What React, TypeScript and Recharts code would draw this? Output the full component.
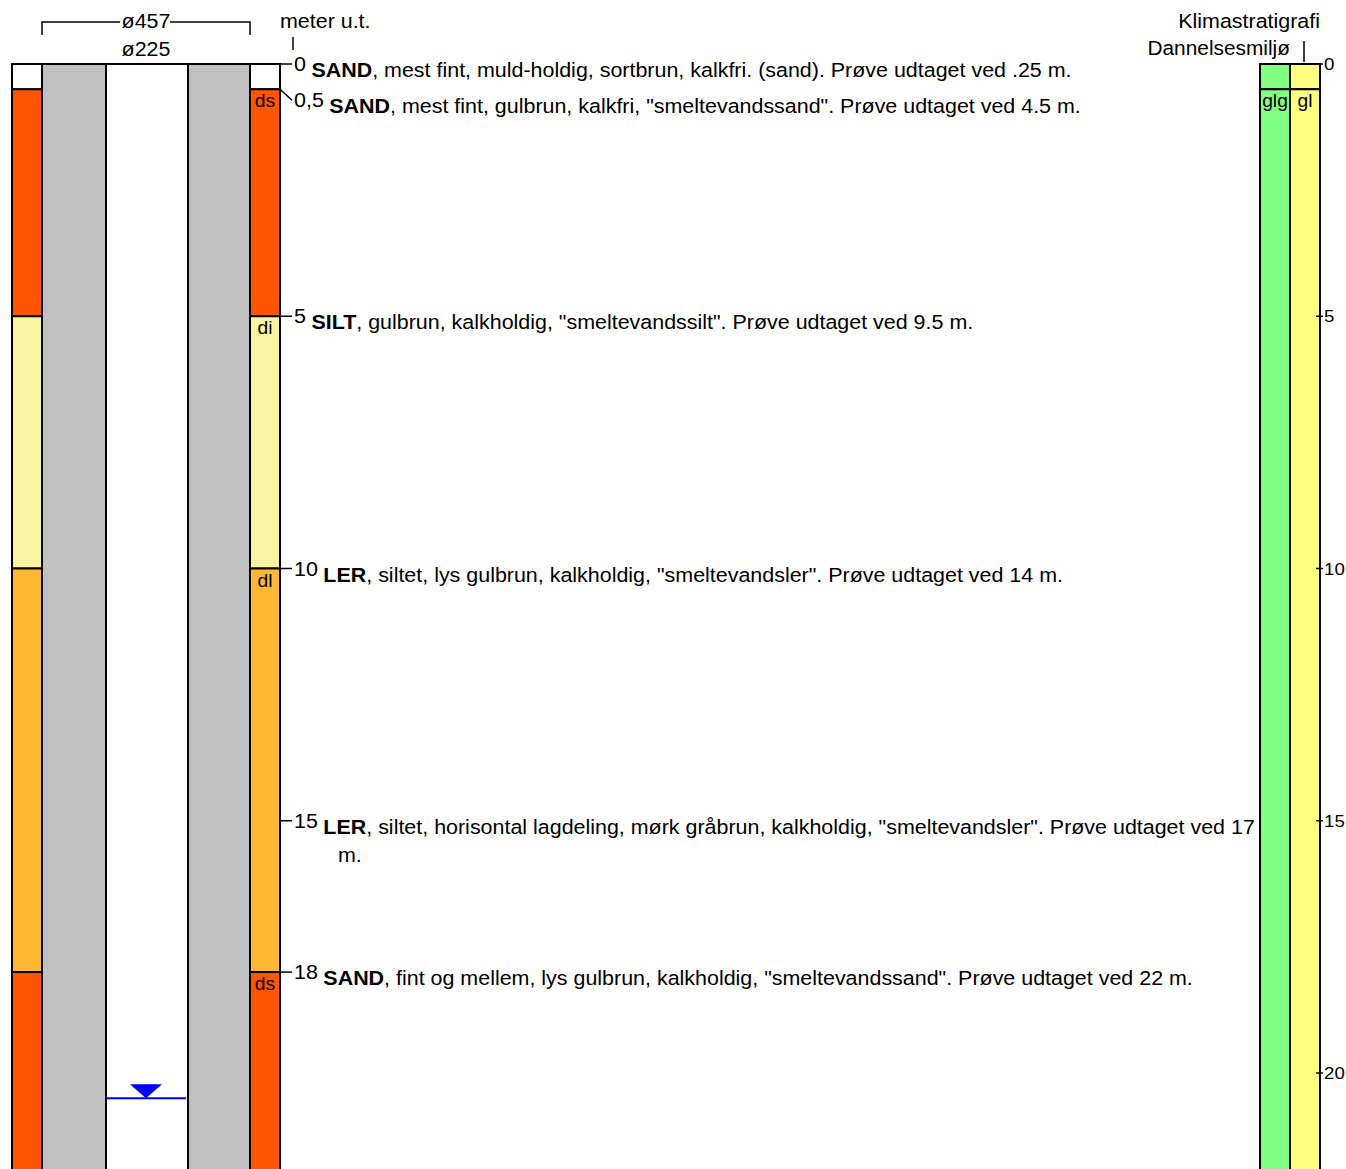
import React from 'react';
import {
  ComposedChart,
  XAxis,
  YAxis,
  ReferenceArea,
  ReferenceLine,
  Scatter,
  Customized,
} from 'recharts';

// ---------------- data ----------------
const layerTops = [0, 0.5, 5, 10, 18];
const layerBottoms = [0.5, 5, 10, 18, 23];
const layerCodes = ['', 'ds', 'di', 'dl', 'ds'];

const descDepths = [0, 0.5, 5, 10, 15, 18];
const descLabels = ['0', '0,5', '5', '10', '15', '18'];
const descHeads = ['SAND', 'SAND', 'SILT', 'LER', 'LER', 'SAND'];
const descTexts = [
  ', mest fint, muld-holdig, sortbrun, kalkfri. (sand). Prøve udtaget ved .25 m.',
  ', mest fint, gulbrun, kalkfri, "smeltevandssand". Prøve udtaget ved 4.5 m.',
  ', gulbrun, kalkholdig, "smeltevandssilt". Prøve udtaget ved 9.5 m.',
  ', siltet, lys gulbrun, kalkholdig, "smeltevandsler". Prøve udtaget ved 14 m.',
  ', siltet, horisontal lagdeling, mørk gråbrun, kalkholdig, "smeltevandsler". Prøve udtaget ved 17',
  ', fint og mellem, lys gulbrun, kalkholdig, "smeltevandssand". Prøve udtaget ved 22 m.',
];
const descWrapped = ['', '', '', '', 'm.', ''];

const envTops = [0, 0.5];
const envBottoms = [0.5, 23];
const dannelseCodes = ['glg', 'glg'];
const dannelseLabels = ['', 'glg'];
const klimaCodes = ['gl', 'gl'];
const klimaLabels = ['', 'gl'];

const waterDepths = [20.5];
const depthTicks = [0, 5, 10, 15, 20];

const outerDiameter = 'ø457';
const innerDiameter = 'ø225';
const depthUnit = 'meter u.t.';
const klimaTitle = 'Klimastratigrafi';
const dannelseTitle = 'Dannelsesmiljø';

// ---------------- layout / style ----------------
const W = 1346;
const H = 1169;
const TOP = 64;
const PX_PER_M = 50.45;
const AXIS_W = 26;
const DEPTH_MAX = (H - TOP) / PX_PER_M;
const FONT = '"Liberation Sans", Arial, Helvetica, sans-serif';
const SX = 1.1;
const MIN_GAP = 0.72;

const COLORS: Record<string, string> = {
  '': '#FFFFFF',
  ds: '#FF5500',
  di: '#FAF4A0',
  dl: '#FFB833',
  glg: '#80FF80',
  gl: '#FFFF80',
};

const STRIP_L = [12, 42];
const CASING_L = [42, 106];
const HOLE = [106, 188];
const CASING_R = [188, 250];
const STRIP_R = [250, 280];
const DANN = [1260, 1290];
const KLIMA = [1290, 1320];
const CONNECT_X1 = 280;
const CONNECT_X2 = 292;
const LABEL_X = 294;
const WATER_X = 146;

// ---------------- derived tables ----------------
const layers = layerTops.map((t, i) => ({
  top: t,
  bottom: layerBottoms[i],
  code: layerCodes[i],
}));

const descRows: any[] = [];
descDepths.forEach((d, i) => {
  const prev = descRows.length ? descRows[descRows.length - 1].y : -Infinity;
  const shown = Math.max(d, prev + MIN_GAP);
  descRows.push({
    x: LABEL_X,
    y: shown,
    depth: d,
    label: descLabels[i],
    head: descHeads[i],
    text: descTexts[i],
    wrap: descWrapped[i],
  });
});

const stripLabelRows = [
  ...layers
    .filter((l) => l.code)
    .map((l) => ({ x: (STRIP_R[0] + STRIP_R[1]) / 2, y: l.top, label: l.code })),
  ...envTops
    .map((t, i) => ({ x: (DANN[0] + DANN[1]) / 2, y: t, label: dannelseLabels[i] }))
    .filter((r) => r.label),
  ...envTops
    .map((t, i) => ({ x: (KLIMA[0] + KLIMA[1]) / 2, y: t, label: klimaLabels[i] }))
    .filter((r) => r.label),
];

const waterRows = waterDepths.map((d) => ({ x: WATER_X, y: d }));

// ---------------- helpers ----------------
const SText = ({ x, y, anchor = 'start', size = 19.5, weight = 'normal', children }: any) => (
  <text
    transform={`translate(${x},${y}) scale(${SX},1)`}
    textAnchor={anchor}
    fontFamily={FONT}
    fontSize={size}
    fontWeight={weight}
    fill="#000"
  >
    {children}
  </text>
);

const DescShape = (p: any) => {
  const { cx, cy, payload } = p;
  if (cx == null || cy == null) return <g />;
  return (
    <text
      transform={`translate(${cx},${cy}) scale(${SX},1)`}
      fontFamily={FONT}
      fontSize={19.5}
      fill="#000"
    >
      <tspan x={0} y={7}>
        {payload.label}
      </tspan>
      <tspan dx={5} y={13} fontWeight="bold">
        {payload.head}
      </tspan>
      <tspan>{payload.text}</tspan>
      {payload.wrap ? (
        <tspan x={40} y={41}>
          {payload.wrap}
        </tspan>
      ) : null}
    </text>
  );
};

const StripLabelShape = (p: any) => {
  const { cx, cy, payload } = p;
  if (cx == null || cy == null) return <g />;
  return (
    <SText x={cx} y={cy + 18} anchor="middle" size={17.5}>
      {payload.label}
    </SText>
  );
};

const WaterShape = (p: any) => {
  const { cx, cy } = p;
  if (cx == null || cy == null) return <g />;
  return (
    <polygon
      points={`${cx - 16},${cy - 14} ${cx + 16},${cy - 14} ${cx},${cy}`}
      fill="#0000FF"
    />
  );
};

const DepthTick = (p: any) => {
  const { x, y, payload } = p;
  return (
    <g>
      <line x1={x - 4} x2={x + 3} y1={y} y2={y} stroke="#000" strokeWidth={1.5} />
      <SText x={x + 4} y={y + 6} size={17}>
        {String(payload.value)}
      </SText>
    </g>
  );
};

const Header = () => (
  <g>
    <path
      d={`M${CASING_L[0]},35 V22 H120 M170,22 H${CASING_R[1]} V35`}
      stroke="#000"
      strokeWidth={1.5}
      fill="none"
    />
    <SText x={(CASING_L[0] + CASING_R[1]) / 2} y={28} anchor="middle">
      {outerDiameter}
    </SText>
    <SText x={(CASING_L[0] + CASING_R[1]) / 2} y={56} anchor="middle">
      {innerDiameter}
    </SText>
    <SText x={STRIP_R[1]} y={28}>
      {depthUnit}
    </SText>
    <line x1={293} x2={293} y1={37} y2={50} stroke="#000" strokeWidth={1.5} />
    <SText x={KLIMA[1]} y={28} anchor="end">
      {klimaTitle}
    </SText>
    <text
      transform={`translate(${DANN[1]},55) scale(1.07,1)`}
      textAnchor="end"
      fontFamily={FONT}
      fontSize={19.5}
      fill="#000"
    >
      {dannelseTitle}
    </text>
    <line x1={1304} x2={1304} y1={41} y2={62} stroke="#000" strokeWidth={1.5} />
  </g>
);

const area = (key: string, x: number[], y1: number, y2: number, fill: string) => (
  <ReferenceArea
    key={key}
    x1={x[0]}
    x2={x[1]}
    y1={y1}
    y2={y2}
    fill={fill}
    fillOpacity={1}
    stroke="#000"
    strokeWidth={2}
    ifOverflow="visible"
  />
);

export default function App() {
  const bottom = layerBottoms[layerBottoms.length - 1];
  return (
    <div style={{ position: 'absolute', left: 0, top: 0, width: W, height: H, background: '#fff' }}>
      <ComposedChart
        width={W}
        height={H}
        data={[]}
        margin={{ top: TOP, right: 0, bottom: 0, left: 0 }}
      >
        <XAxis type="number" dataKey="x" domain={[0, W - AXIS_W]} hide />
        <YAxis
          type="number"
          dataKey="y"
          orientation="right"
          width={AXIS_W}
          domain={[0, DEPTH_MAX]}
          reversed
          ticks={depthTicks}
          interval={0}
          axisLine={false}
          tickLine={false}
          tickSize={0}
          tickMargin={0}
          tick={<DepthTick />}
        />

        {area('hole', HOLE, 0, bottom, '#FFFFFF')}
        {area('casL', CASING_L, 0, bottom, '#C0C0C0')}
        {area('casR', CASING_R, 0, bottom, '#C0C0C0')}
        {layers.map((l, i) => area(`sl${i}`, STRIP_L, l.top, l.bottom, COLORS[l.code]))}
        {layers.map((l, i) => area(`sr${i}`, STRIP_R, l.top, l.bottom, COLORS[l.code]))}
        {envTops.map((t, i) => area(`dn${i}`, DANN, t, envBottoms[i], COLORS[dannelseCodes[i]]))}
        {envTops.map((t, i) => area(`kl${i}`, KLIMA, t, envBottoms[i], COLORS[klimaCodes[i]]))}

        {descRows.map((r, i) => (
          <ReferenceLine
            key={`c${i}`}
            segment={[
              { x: CONNECT_X1, y: r.depth },
              { x: CONNECT_X2, y: r.y },
            ]}
            stroke="#000"
            strokeWidth={1.5}
            ifOverflow="visible"
          />
        ))}

        {waterDepths.map((d, i) => (
          <ReferenceLine
            key={`w${i}`}
            segment={[
              { x: HOLE[0], y: d },
              { x: HOLE[1] - 2, y: d },
            ]}
            stroke="#0000FF"
            strokeWidth={2}
            ifOverflow="visible"
          />
        ))}

        <Scatter data={waterRows} shape={WaterShape} isAnimationActive={false} />
        <Scatter data={stripLabelRows} shape={StripLabelShape} isAnimationActive={false} />
        <Scatter data={descRows} shape={DescShape} isAnimationActive={false} />

        <Customized component={<Header />} />
      </ComposedChart>
    </div>
  );
}
